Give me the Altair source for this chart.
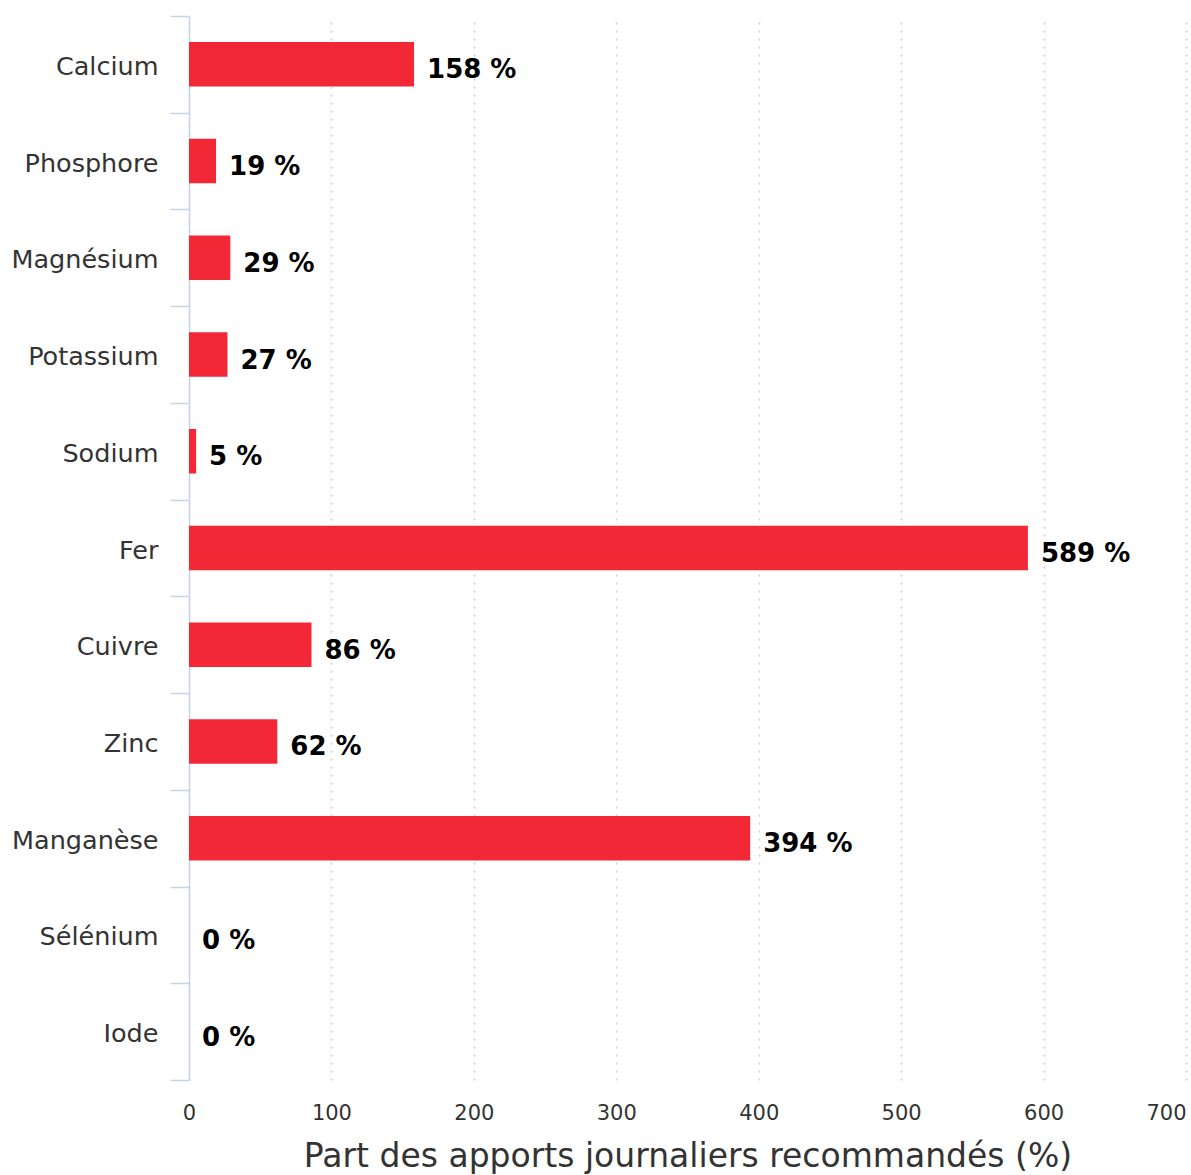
import altair as alt
import pandas as pd

# Minerals and their share of the recommended daily intake (%)
nutrients = ["Calcium", "Phosphore", "Magnésium", "Potassium", "Sodium", "Fer",
             "Cuivre", "Zinc", "Manganèse", "Sélénium", "Iode"]
percent = [158, 19, 29, 27, 5, 589, 86, 62, 394, 0, 0]
x_ticks = [0, 100, 200, 300, 400, 500, 600, 700]

df = pd.DataFrame({
    "nutrient": nutrients,
    "value": percent,
    "label": [f"{v} %" for v in percent],
})

axis_color = "#c5d4e6"
text_color = "#333333"

base = alt.Chart(df).encode(
    y=alt.Y(
        "nutrient:N",
        sort=nutrients,
        scale=alt.Scale(paddingInner=0, paddingOuter=0),
        axis=alt.Axis(
            title=None,
            labelFontSize=25.5,
            labelColor=text_color,
            labelPadding=12,
            labelOffset=2,
            tickBand="extent",
            tickSize=19,
            tickColor=axis_color,
            tickWidth=1.5,
            domainColor=axis_color,
            domainWidth=1.5,
            grid=False,
        ),
    ),
    x=alt.X(
        "value:Q",
        scale=alt.Scale(domain=[0, 700], nice=False),
        axis=alt.Axis(
            values=x_ticks,
            title="Part des apports journaliers recommandés (%)",
            titleFontSize=33,
            titleFontWeight="normal",
            titleColor=text_color,
            titlePadding=17,
            labelFontSize=21,
            labelColor=text_color,
            labelPadding=22,
            labelFlush=False,
            labelAlign=alt.expr("datum.value == 700 ? 'right' : 'center'"),
            domain=False,
            ticks=False,
            grid=True,
            gridColor="#cccccc",
            gridDash=[2, 6],
            gridWidth=1.5,
        ),
    ),
)

bars = base.mark_bar(color="#f22837", height=alt.RelativeBandSize(0.46))

labels = base.mark_text(
    align="left", baseline="middle", dx=13, dy=6,
    fontWeight="bold", fontSize=26, color="black",
).encode(text="label:N")

chart = (
    (bars + labels)
    .properties(
        width=997,
        height=1064,
        padding={"left": 10, "top": 4, "right": 5, "bottom": 5},
    )
    .configure(font="DejaVu Sans")
    .configure_view(stroke=None)
)

chart.save("out.html", embed_options={"renderer": "svg", "actions": False})
